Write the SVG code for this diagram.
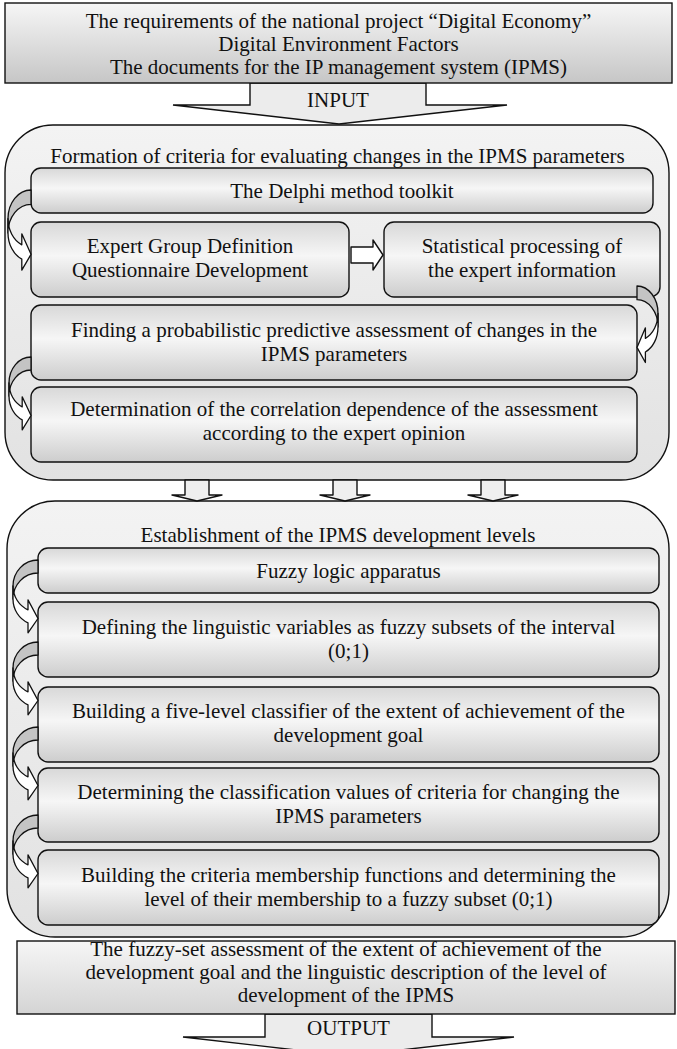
<svg xmlns="http://www.w3.org/2000/svg" xmlns:xlink="http://www.w3.org/1999/xlink" width="677" height="1049" viewBox="0 0 677 1049">
<style>
.t{font-family:"Liberation Serif","Times New Roman",serif;font-size:21px;fill:#111;text-anchor:middle}
.ln{stroke:#111;stroke-width:1.4;stroke-linejoin:round}
.box{fill:url(#gBox);stroke:#111;stroke-width:1.4}
.sec{fill:url(#gSec);stroke:#111;stroke-width:1.4}
.cback{fill:#c4c4c4;stroke:#111;stroke-width:1.3;stroke-linejoin:round}
.cfront{fill:#fff;stroke:#111;stroke-width:1.3;stroke-linejoin:round}
.big{fill:#ececec;stroke:#111;stroke-width:1.4;stroke-linejoin:miter}
</style>
<defs>
<linearGradient id="gTop" x1="0" y1="0" x2="0" y2="1"><stop offset="0" stop-color="#f6f6f6"/><stop offset="1" stop-color="#c6c6c6"/></linearGradient>
<linearGradient id="gOut" x1="0" y1="0" x2="0" y2="1"><stop offset="0" stop-color="#f6f6f6"/><stop offset="1" stop-color="#d4d4d4"/></linearGradient>
<linearGradient id="gBox" x1="0" y1="0" x2="0" y2="1"><stop offset="0" stop-color="#d8d8d8"/><stop offset="0.45" stop-color="#f6f6f6"/><stop offset="1" stop-color="#cdcdcd"/></linearGradient>
<linearGradient id="gSec" x1="0" y1="0" x2="0" y2="1"><stop offset="0" stop-color="#f3f3f3"/><stop offset="1" stop-color="#e2e2e2"/></linearGradient>
<g id="carrow">
<path class="cback" vector-effect="non-scaling-stroke" d="M0,0 A25,26 0 0 0 -25,26 L-25,39 A25,26 0 0 1 0,13 Z"/>
<path class="cfront" vector-effect="non-scaling-stroke" d="M-25,26 A25,26 0 0 0 -10,49.83 L-10,39.83 L0,58.5 L-10,72.83 L-10,62.83 A25,26 0 0 1 -25,39 Z"/>
</g>
</defs>
<rect width="677" height="1049" fill="#fff"/>

<g id="input-arrow">
<polygon class="big" points="250,83 250,105 173,105 339,124 507,105 426,105 426,83"/>
<text class="t" x="338" y="107">INPUT</text>
</g>
<g id="top-box">
<rect x="5" y="3" width="667" height="80" fill="url(#gTop)" stroke="#111" stroke-width="1.4"/>
<text class="t" x="338.5" y="28">The requirements of the national project “Digital Economy”</text>
<text class="t" x="338.5" y="51">Digital Environment Factors</text>
<text class="t" x="338.5" y="74">The documents for the IP management system (IPMS)</text>
</g>

<g id="section1">
<rect class="sec" x="5" y="125" width="664" height="355" rx="48"/>
<text class="t" x="337.5" y="163">Formation of criteria for evaluating changes in the IPMS parameters</text>
</g>
<g id="delphi">
<rect class="box" x="31" y="168" width="622" height="45" rx="10"/>
<text class="t" x="342" y="198">The Delphi method toolkit</text>
</g>
<g id="expert">
<rect class="box" x="31" y="222" width="318" height="75" rx="10"/>
<text class="t" x="190" y="253">Expert Group Definition</text>
<text class="t" x="190" y="277">Questionnaire Development</text>
</g>
<g id="statistical">
<rect class="box" x="384" y="222" width="276" height="75" rx="10"/>
<text class="t" x="522" y="253">Statistical processing of</text>
<text class="t" x="522" y="277">the expert information</text>
</g>
<g id="finding">
<rect class="box" x="31" y="305" width="606" height="75" rx="10"/>
<text class="t" x="334" y="337">Finding a probabilistic predictive assessment of changes in the</text>
<text class="t" x="334" y="361">IPMS parameters</text>
</g>
<g id="determination">
<rect class="box" x="31" y="387" width="606" height="75" rx="10"/>
<text class="t" x="334" y="416">Determination of the correlation dependence of the assessment</text>
<text class="t" x="334" y="440">according to the expert opinion</text>
</g>

<g id="section2">
<rect class="sec" x="7" y="501" width="662" height="436" rx="48"/>
<text class="t" x="338" y="542">Establishment of the IPMS development levels</text>
</g>
<g id="fuzzy">
<rect class="box" x="38" y="548" width="621" height="45" rx="10"/>
<text class="t" x="348.5" y="578">Fuzzy logic apparatus</text>
</g>
<g id="defining">
<rect class="box" x="38" y="602" width="621" height="75" rx="10"/>
<text class="t" x="348.5" y="634">Defining the linguistic variables as fuzzy subsets of the interval</text>
<text class="t" x="348.5" y="658">(0;1)</text>
</g>
<g id="classifier">
<rect class="box" x="38" y="687" width="621" height="75" rx="10"/>
<text class="t" x="348.5" y="718">Building a five-level classifier of the extent of achievement of the</text>
<text class="t" x="348.5" y="742">development goal</text>
</g>
<g id="classification-values">
<rect class="box" x="38" y="768" width="621" height="74" rx="10"/>
<text class="t" x="348.5" y="799">Determining the classification values of criteria for changing the</text>
<text class="t" x="348.5" y="823">IPMS parameters</text>
</g>
<g id="membership">
<rect class="box" x="38" y="850" width="621" height="75" rx="10"/>
<text class="t" x="348.5" y="882">Building the criteria membership functions and determining the</text>
<text class="t" x="348.5" y="906">level of their membership to a fuzzy subset (0;1)</text>
</g>

<g id="output-arrow">
<polygon class="big" points="265,1014 265,1037 183,1037 348.5,1056 514,1037 432,1037 432,1014"/>
<text class="t" x="348.5" y="1035">OUTPUT</text>
</g>
<g id="output-box">
<rect x="17" y="941" width="658" height="73" fill="url(#gOut)" stroke="#111" stroke-width="1.4"/>
<text class="t" x="346" y="956">The fuzzy-set assessment of the extent of achievement of the</text>
<text class="t" x="346" y="979">development goal and the linguistic description of the level of</text>
<text class="t" x="346" y="1002">development of the IPMS</text>
</g>

<g id="connectors">
<use xlink:href="#carrow" transform="translate(31,190) scale(0.92,1.1)"/>
<use xlink:href="#carrow" transform="translate(637,286) scale(-0.84,1.05)"/>
<use xlink:href="#carrow" transform="translate(31,357) scale(0.88,1)"/>
<polygon points="351,247 373,247 373,240 383,255 373,270 373,263 351,263" fill="#fff" class="ln"/>
<polygon points="185,480 185,495 172,495 197,501 222,495 209,495 209,480" fill="#efefef" class="ln"/>
<polygon points="333,480 333,495 320,495 345,501 370,495 357,495 357,480" fill="#efefef" class="ln"/>
<polygon points="481,480 481,495 468,495 493,501 518,495 505,495 505,480" fill="#efefef" class="ln"/>
<use xlink:href="#carrow" transform="translate(38,560)"/>
<use xlink:href="#carrow" transform="translate(38,642)"/>
<use xlink:href="#carrow" transform="translate(38,727)"/>
<use xlink:href="#carrow" transform="translate(38,815)"/>
</g>
</svg>
